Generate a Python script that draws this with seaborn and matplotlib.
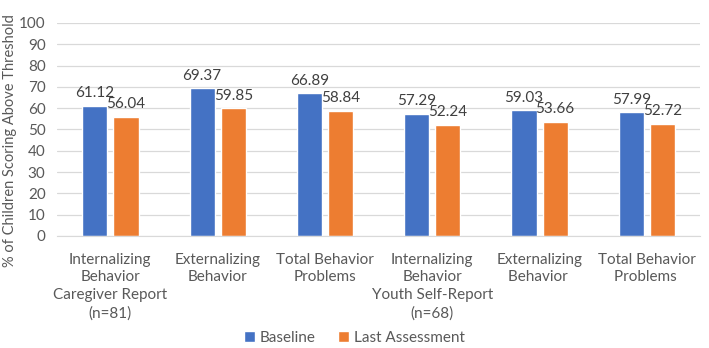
import matplotlib
matplotlib.use("Agg")
import matplotlib.pyplot as plt
import pandas as pd
import seaborn as sns

# chart values
categories = [
    "Internalizing\nBehavior\nCaregiver Report\n(n=81)",
    "Externalizing\nBehavior",
    "Total Behavior\nProblems",
    "Internalizing\nBehavior\nYouth Self-Report\n(n=68)",
    "Externalizing\nBehavior ",
    "Total Behavior\nProblems ",
]
baseline = [61.12, 69.37, 66.89, 57.29, 59.03, 57.99]
last_assessment = [56.04, 59.85, 58.84, 52.24, 53.66, 52.72]
series_names = ["Baseline", "Last Assessment"]
colors = ["#4472C4", "#ED7D31"]

df = pd.DataFrame({
    "category": categories * 2,
    "value": baseline + last_assessment,
    "series": [series_names[0]] * len(categories) + [series_names[1]] * len(categories),
})

sns.set_style("white")
plt.rcParams["font.family"] = ["Lato", "DejaVu Sans"]
text_color = "#595959"

fig, ax = plt.subplots(figsize=(7.09, 3.48), dpi=100)
fig.subplots_adjust(left=0.08, right=0.988, top=0.934, bottom=0.322)

sns.barplot(data=df, x="category", y="value", hue="series", order=categories,
            hue_order=series_names, palette=colors, width=0.58, gap=0.19,
            saturation=1, ax=ax)

for cont in ax.containers:
    ax.bar_label(cont, fmt="%.2f", padding=4, fontsize=11, color="#404040")

ax.set_ylim(0, 100)
ax.set_yticks(range(0, 101, 10))
ax.yaxis.grid(True, color="#D9D9D9", linewidth=0.9)
ax.set_axisbelow(True)
for side in ["left", "right", "top"]:
    ax.spines[side].set_visible(False)
ax.spines["bottom"].set_color("#D9D9D9")
ax.tick_params(axis="y", length=0, labelsize=11, colors=text_color, pad=8)
ax.tick_params(axis="x", length=0, labelsize=11, colors=text_color, pad=12)
for lbl in ax.get_xticklabels():
    lbl.set_linespacing(1.35)
ax.set_xlabel("")
ax.set_ylabel("% of Children Scoring Above Threshold", fontsize=10.5, color=text_color)
ax.yaxis.set_label_coords(-0.062, 0.45)

ax.legend_.remove()
handles, labels = ax.get_legend_handles_labels()
fig.legend(handles, labels, loc="center", bbox_to_anchor=(0.5, 0.03), ncol=2,
           frameon=False, fontsize=11, handlelength=0.7, handleheight=0.7,
           handletextpad=0.3, columnspacing=1.5, labelcolor=text_color)

fig.savefig("out.png", dpi=100)
